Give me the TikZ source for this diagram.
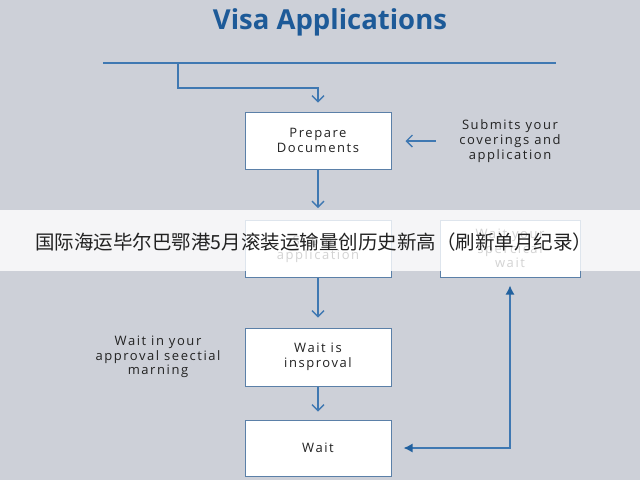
\documentclass[tikz,border=0pt]{standalone}
\usepackage{fontspec}
\setmainfont{Open Sans}
\newfontfamily\boxfont[LetterSpace=12]{Open Sans}
\newfontfamily\cjk{Noto Sans CJK SC}
\usepackage{tikz}
\usetikzlibrary{arrows.meta, positioning, calc}
\usepackage{xcolor}
\definecolor{bgpanel}{HTML}{CDD0D8}
\definecolor{titleblue}{HTML}{1D5A98}
\definecolor{linkblue}{HTML}{3F78B2}
\definecolor{boxedge}{HTML}{5B80A8}
\definecolor{tipblue}{HTML}{22619F}
\definecolor{inktext}{HTML}{222222}

\tikzset{
  stepbox/.style={draw=boxedge, line width=1pt, fill=white, minimum width=146pt,
    minimum height=57pt, align=center, font=\boxfont\fontsize{13}{14.5}\selectfont,
    text=inktext},
  sidenote/.style={align=center, font=\boxfont\fontsize{13}{14.7}\selectfont, text=inktext},
  flow/.style={draw=linkblue, line width=1.4pt, -{Straight Barb[length=6pt,width=12pt]}},
  loopback/.style={draw=linkblue, line width=1.4pt,
    {Latex[length=9pt,width=9pt,color=tipblue]}-{Latex[length=9pt,width=9pt,color=tipblue]}}
}

\begin{document}
\begin{tikzpicture}[x=1pt, y=-1pt]
  \useasboundingbox (0,0) rectangle (640,480);
  \fill[bgpanel] (0,0) rectangle (640,480);

  % Title and top bar
  \node[font=\bfseries\fontsize{27.5}{30}\selectfont, text=titleblue] (title) at (330,22) {Visa Applications};
  \coordinate (barL) at (103,63);
  \coordinate (barR) at (556,63);
  \coordinate (barTap) at (178,63);
  \draw[linkblue, line width=1.4pt] (barL) -- (barR);

  % Boxes
  \node[stepbox] (prep) at (318,140.5) {Prepare\\Documents};
  \node[stepbox] (apply) at (318,249) {Submit\\application};
  \node[stepbox, minimum width=140pt] (special) at (510,248.5) {Wait your\\spercical\\wait};
  \node[stepbox, minimum height=58pt] (inwait) at (318,357) {Wait is\\insproval};
  \node[stepbox, minimum height=56pt] (done) at (318,448) {Wait};

  % Side notes
  \node[sidenote] (submitnote) at (510,141) {Submits your\\coverings and\\application};
  \node[sidenote] (waitnote) at (158,357) {Wait in your\\approval seectial\\marning};

  % Connectors
  \draw[flow, shorten >=9pt] (barTap) -- ++(0,25) -| (prep.north);
  \draw[flow, shorten <=20pt, shorten >=14pt] (submitnote.west) -- (submitnote.west -| prep.east);
  \draw[flow, shorten >=12pt] (prep.south) -- (apply.north);
  \draw[flow, shorten >=10pt] (apply.south) -- (inwait.north);
  \draw[flow, shorten >=8pt] (inwait.south) -- (done.north);
  \draw[loopback, shorten <=12pt, shorten >=8pt] (done.east) -| (special.south);

  % Banner
  \fill[white, opacity=0.8] (0,210) rectangle (640,271);
  \node[anchor=west, text=inktext, font=\cjk\fontsize{19.5}{22}\selectfont, inner sep=0pt] (banner) at (35,242)
    {国际海运毕尔巴鄂港5月滚装运输量创历史新高（刷新单月纪录）};
\end{tikzpicture}
\end{document}
